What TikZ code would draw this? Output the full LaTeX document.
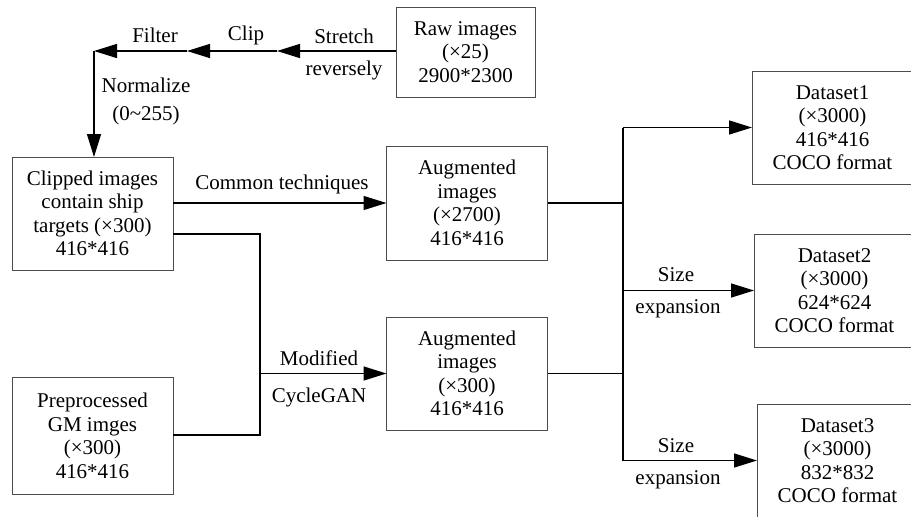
\documentclass[tikz,border=0pt]{standalone}
\usepackage{fontspec}
\setmainfont{Liberation Serif}
\usetikzlibrary{arrows.meta}
\tikzset{
  box/.style={draw=black!70, line width=0.9pt, rectangle, align=center, inner sep=0pt, outer sep=0pt, minimum width=161pt, minimum height=113pt},
  lbl/.style={inner sep=0pt, align=center},
  arr/.style={-{Triangle[length=23pt,width=14pt]}},
}
\begin{document}
\begin{tikzpicture}[x=1pt,y=-1pt,line width=1.4pt,font=\fontsize{21}{23.5}\selectfont]
\useasboundingbox (0,0) rectangle (911,517);
\node[box, minimum width=139pt, minimum height=90pt] (raw) at (465.5,52) {Raw images\\(×25)\\2900*2300};
\node[box] (clip) at (92.5,213.5) {Clipped images\\contain ship\\targets (×300)\\416*416};
\node[box, minimum height=117pt] (gm) at (92.5,436) {Preprocessed\\GM imges\\(×300)\\416*416};
\node[box, minimum height=114pt] (aug1) at (467,203) {Augmented\\images\\(×2700)\\416*416};
\node[box] (aug2) at (467,373.5) {Augmented\\images\\(×300)\\416*416};
\node[box] (ds1) at (832.5,127.5) {Dataset1\\(×3000)\\416*416\\COCO format};
\node[box] (ds2) at (834.5,290.5) {Dataset2\\(×3000)\\624*624\\COCO format};
\node[box] (ds3) at (837.5,460.5) {Dataset3\\(×3000)\\832*832\\COCO format};
\coordinate (c1) at (277,51);
\coordinate (c2) at (187,51);
\coordinate (cnr) at (94,51);
\coordinate (jt) at (260,234);
\coordinate (jb) at (260,435);
\coordinate (rx) at (623,300);
\draw[arr] (raw.west |- c1) -- (c1);
\draw[arr] (c1) -- (c2);
\draw[arr] (c2) -- (cnr);
\draw[arr] (cnr) -- (clip.north -| cnr);
\draw[arr] (clip.east |- aug1.west) -- (aug1.west);
\draw (clip.east |- jt) -- (jt) -- (jb) -- (gm.east |- jb);
\draw[arr] (aug2.west -| jt) -- (aug2.west);
\draw (aug1.east) -- (aug1.east -| rx);
\draw (aug2.east) -- (aug2.east -| rx);
\draw (ds1.west -| rx) -- (ds3.west -| rx);
\draw[arr] (ds1.west -| rx) -- (ds1.west);
\draw[arr] (ds2.west -| rx) -- (ds2.west);
\draw[arr] (ds3.west -| rx) -- (ds3.west);
\node[lbl] (stretch) at (344,36) {Stretch};
\node[lbl] (reversely) at (344,70) {reversely};
\node[lbl] (cliplbl) at (246,35) {Clip};
\node[lbl] (filter) at (155,35) {Filter};
\node[lbl] (normalize) at (146,85) {Normalize};
\node[lbl] (range) at (146,115) {(0\textasciitilde255)};
\node[lbl] (common) at (282,184) {Common techniques};
\node[lbl] (modified) at (319,358) {Modified};
\node[lbl] (cyclegan) at (319,397) {CycleGAN};
\node[lbl] (size2) at (676,275) {Size};
\node[lbl] (expand2) at (678,309) {expansion};
\node[lbl] (size3) at (676,446) {Size};
\node[lbl] (expand3) at (678,480) {expansion};
\end{tikzpicture}
\end{document}
